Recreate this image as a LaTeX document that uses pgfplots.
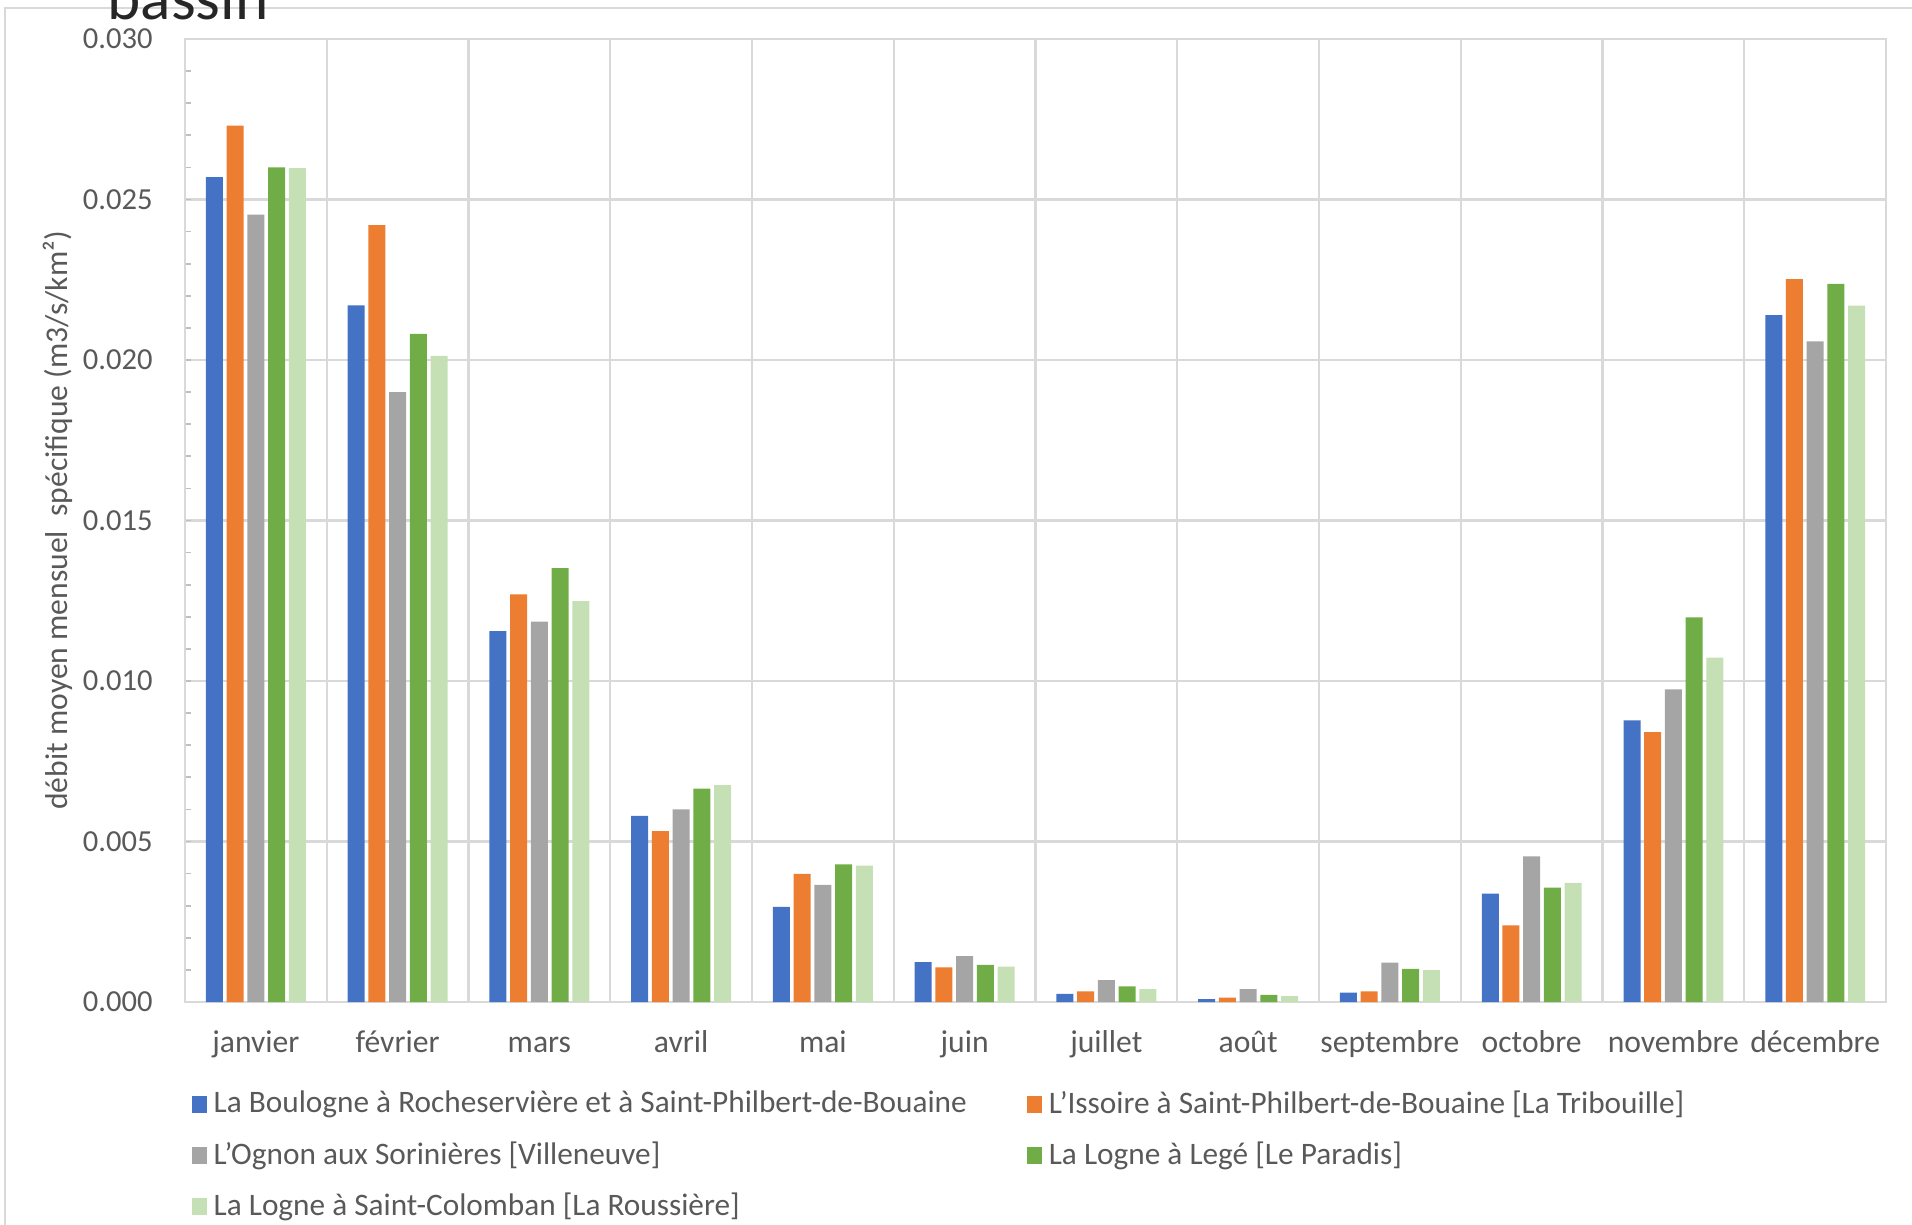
\documentclass[border=0pt]{standalone}
\usepackage{pgfplots}
\pgfplotsset{compat=1.18}
\usepackage{fontspec}
\setmainfont{Carlito}
\definecolor{c1}{HTML}{4472C4}
\definecolor{c2}{HTML}{ED7D31}
\definecolor{c3}{HTML}{A5A5A5}
\definecolor{c4}{HTML}{70AD47}
\definecolor{c5}{HTML}{C5E0B4}
\definecolor{gridgray}{HTML}{D9D9D9}
\definecolor{axgray}{HTML}{BFBFBF}
\definecolor{labgray}{HTML}{595959}
\definecolor{titlecol}{HTML}{262626}
\begin{document}
\begin{tikzpicture}
\useasboundingbox (0,0) rectangle (19.12cm,12.24cm);
\begin{scope}
\clip (0,0) rectangle (19.12cm,12.24cm);
\draw[color=gridgray, line width=0.25mm] (0.05cm,-1cm) -- (0.05cm,12.16cm) -- (20cm,12.16cm);
\node[anchor=base west, font=\fontsize{18}{22}\selectfont, text=titlecol, inner sep=0pt] at (1.07cm,12.04cm) {bassin};
\end{scope}
\begin{axis}[
  at={(1.85cm,2.22cm)}, anchor=south west,
  scale only axis, width=17.01cm, height=9.63cm,
  ybar=0.37mm, bar width=1.7mm,
  xmin=-0.5, xmax=11.5, ymin=0, ymax=0.03,
  xtick={0,...,11},
  xticklabels={janvier,février,mars,avril,mai,juin,juillet,août,septembre,octobre,novembre,décembre},
  x tick label style={font=\fontsize{9}{11}\selectfont, text=labgray, text height=1.6ex, text depth=0.45ex, yshift=-1.15mm},
  major x tick style={draw=none},
  minor xtick={-0.5,0.5,...,11.5},
  minor x tick style={draw=none},
  xminorgrids,
  minor x grid style={gridgray, line width=0.6pt},
  ytick={0,0.005,0.01,0.015,0.02,0.025,0.03},
  minor y tick num=4,
  ymajorgrids,
  major y grid style={gridgray, line width=0.6pt},
  y tick label style={font=\fontsize{8.7}{10}\selectfont, text=labgray, xshift=-2mm,
     /pgf/number format/.cd, fixed, fixed zerofill, precision=3, assume math mode=true},
  scaled y ticks=false,
  ytick pos=left,
  tick align=inside,
  major tick length=0.6mm, minor tick length=0.6mm,
  y tick style={axgray, line width=0.5pt},
  axis line style={gridgray, line width=0.6pt},
  ylabel={débit moyen mensuel\ \ spécifique (m3/s/km²)},
  ylabel style={at={(axis description cs:-0.0747,0.5)}, anchor=center, font=\fontsize{9}{11}\selectfont, text=labgray},
  legend columns=2,
  legend cell align=left,
  legend style={at={(axis description cs:0.0035,-0.084)}, anchor=north west, draw=none, fill=none,
     font=\fontsize{8.9}{10}\selectfont, text=labgray, inner sep=0pt,
     /tikz/every even column/.append style={column sep=5.3mm}, row sep=0.9mm},
  legend image code/.code={\path[#1] (0cm,-0.085cm) rectangle (0.15cm,0.085cm);},
]
\addplot[fill=c1, draw=none] coordinates {(0,0.0257) (1,0.0217) (2,0.01155) (3,0.0058) (4,0.00296) (5,0.00124) (6,0.00025) (7,0.00009) (8,0.00029) (9,0.00338) (10,0.00877) (11,0.0214)};
\addplot[fill=c2, draw=none] coordinates {(0,0.0273) (1,0.0242) (2,0.0127) (3,0.00532) (4,0.00399) (5,0.00108) (6,0.00033) (7,0.00014) (8,0.00033) (9,0.00239) (10,0.00841) (11,0.02252)};
\addplot[fill=c3, draw=none] coordinates {(0,0.02453) (1,0.0190) (2,0.01185) (3,0.0060) (4,0.00365) (5,0.00143) (6,0.00068) (7,0.00040) (8,0.00123) (9,0.00454) (10,0.00974) (11,0.02058)};
\addplot[fill=c4, draw=none] coordinates {(0,0.0260) (1,0.02081) (2,0.01352) (3,0.00665) (4,0.00429) (5,0.00116) (6,0.00049) (7,0.00022) (8,0.00103) (9,0.00356) (10,0.01198) (11,0.02237)};
\addplot[fill=c5, draw=none] coordinates {(0,0.02598) (1,0.02013) (2,0.01249) (3,0.00676) (4,0.00425) (5,0.00110) (6,0.00040) (7,0.00018) (8,0.00099) (9,0.00371) (10,0.01073) (11,0.02169)};
\legend{La Boulogne à Rocheservière et à Saint-Philbert-de-Bouaine, L'Issoire à Saint-Philbert-de-Bouaine [La Tribouille], L'Ognon aux Sorinières [Villeneuve], La Logne à Legé [Le Paradis], La Logne à Saint-Colomban [La Roussière]}
\end{axis}
\end{tikzpicture}
\end{document}
